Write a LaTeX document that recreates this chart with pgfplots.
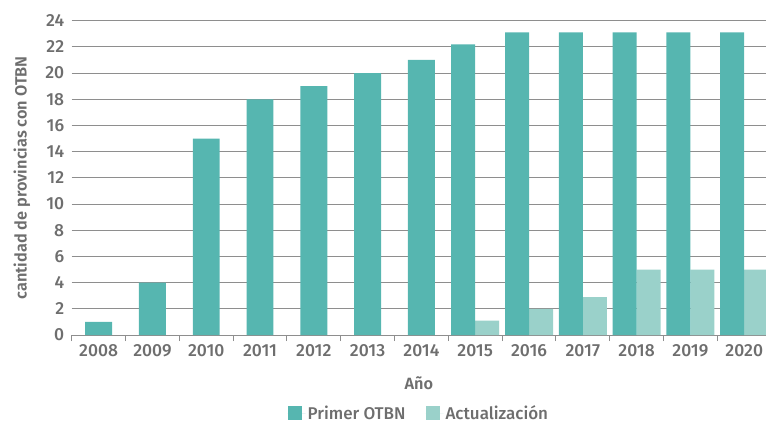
\documentclass[border=0pt]{standalone}
\usepackage{fontspec}
\IfFontExistsTF{Fira Sans Medium}{\setmainfont{Fira Sans Medium}[BoldFont={Fira Sans SemiBold}]}{\setmainfont{Fira Sans}}
\usepackage{pgfplots}
\pgfplotsset{compat=1.18}
\definecolor{primer}{HTML}{56B6B0}
\definecolor{actual}{HTML}{9AD1CA}
\definecolor{txt}{HTML}{6E6E6E}
\definecolor{gridc}{HTML}{8E8E8E}
\begin{document}
\begin{tikzpicture}
\path[use as bounding box] (-71.7pt,-88pt) rectangle (694.3pt,335pt);
\begin{axis}[
  scale only axis,
  width=694.3pt, height=314.3pt,
  xmin=-0.5, xmax=12.405,
  ymin=0, ymax=24,
  ytick={0,2,...,24},
  ymajorgrids,
  grid style={draw=gridc, line width=0.9pt},
  axis x line*=bottom,
  axis y line*=left,
  x axis line style={draw=gridc, line width=0.9pt, -},
  y axis line style={draw=none},
  major tick length=0pt,
  tick align=outside,
  tick style={draw=gridc, line width=0.9pt},
  /pgf/number format/assume math mode=true,
  xtick={0,...,12},
  xticklabels={2008,2009,2010,2011,2012,2013,2014,2015,2016,2017,2018,2019,2020},
  extra x ticks={-0.5,0.5,...,12.5},
  extra x tick labels={},
  extra x tick style={grid=none, major tick length=6pt},
  tick label style={font=\fontsize{17.5}{20}\selectfont, text=txt},
  yticklabel style={xshift=-4pt},
  xticklabel style={yshift=-6pt},
  xlabel={Año},
  ylabel={cantidad de provincias con OTBN},
  label style={font=\fontsize{16.3}{19}\selectfont\bfseries, text=txt},
  xlabel style={at={(axis description cs:0.5,0)}, anchor=center, yshift=-48pt},
  ylabel style={at={(axis description cs:0,0.5)}, anchor=center, yshift=49.7pt},
  legend style={at={(axis description cs:0.5,0)}, yshift=-78pt, xshift=0pt, anchor=center,
     draw=none, font=\fontsize{17}{20}\selectfont, text=txt, legend columns=2,
     /tikz/every even column/.append style={column sep=18pt}},
  legend cell align=left,
  legend image code/.code={\path (0pt,0pt) -- (18pt,0pt); \fill[#1,draw=none] (0pt,-7pt) rectangle (14pt,7pt);},
  clip=true,
]
\addplot[ybar, fill=primer, draw=none, bar width=0.5, bar shift=0] coordinates {
 (0,1) (1,4) (2,15) (3,18) (4,19) (5,20) (6,21)};
\addlegendentry{Primer OTBN}
\addplot[ybar, fill=actual, draw=none, bar width=0.446, bar shift=0.223] coordinates {
 (7,1.1) (8,2) (9,2.9) (10,5) (11,5) (12,5)};
\addlegendentry{Actualización}
\addplot[ybar, fill=primer, draw=none, bar width=0.446, bar shift=-0.223, forget plot] coordinates {
 (7,22.2) (8,23.1) (9,23.1) (10,23.1) (11,23.1) (12,23.1)};
\end{axis}
\end{tikzpicture}
\end{document}
